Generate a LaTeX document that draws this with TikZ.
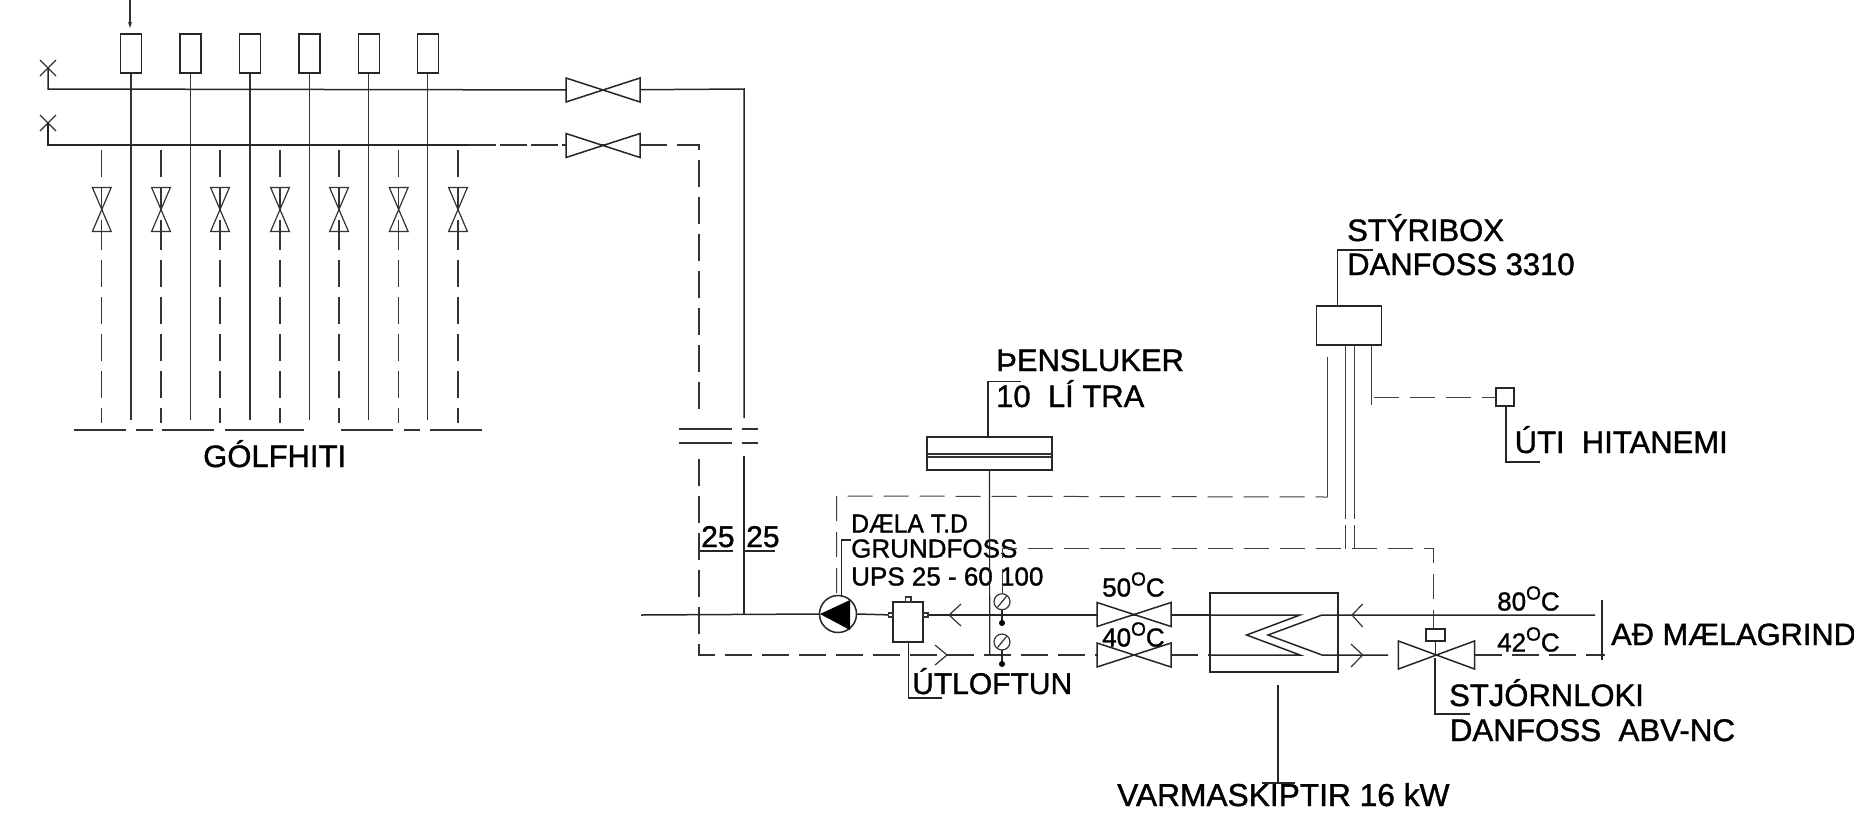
\documentclass[tikz,border=0pt]{standalone}
\usepackage{fontspec}
\usetikzlibrary{arrows.meta}
\setmainfont[FakeBold=1.2]{Liberation Sans}
\tikzset{
  x=1pt,y=-1pt,
  pipe/.style={line width=1.5pt,draw=black!85},
  thin pipe/.style={line width=1.2pt,draw=black!80},
  dash pipe/.style={line width=1.25pt,draw=black!80,dash pattern=on 27pt off 10pt},
  ctrl/.style={line width=1.0pt,draw=black!75,dash pattern=on 25pt off 11pt},
  wire/.style={line width=1.0pt,draw=black!75},
  lead/.style={line width=1.2pt,draw=black!85},
  lab/.style={anchor=west,inner sep=0pt,text=black,text height=22pt,text depth=0pt,font=\fontsize{31}{31}\selectfont},
  labs/.style={anchor=west,inner sep=0pt,text=black,text height=19pt,text depth=0pt,font=\fontsize{26}{26}\selectfont},
  bow h/.pic={\draw[pipe,fill=white] (-37,-12)--(37,12)--(37,-12)--(-37,12)--cycle;},
  bow v/.pic={\draw[thin pipe] (-9.4,-22)--(9.4,22)--(-9.4,22)--(9.4,-22)--cycle;
              \draw[thin pipe] (0,-22)--(0,0) (0,22)--(0,10);},
  cross/.pic={\draw[thin pipe] (-8,-8)--(8,8) (-8,8)--(8,-8);},
  sensor/.pic={\draw[thin pipe,fill=white] (0,0) ellipse (8 and 8);
               \draw[thin pipe] (-4.5,5.5)--(4.5,-5.5);}
}
\newcommand{\degc}[1]{#1\raisebox{0.42em}{\fontsize{19}{19}\selectfont O}C}
\begin{document}
\begin{tikzpicture}
\useasboundingbox[fill=white] (0,0) rectangle (1854,814);
% radiators
\foreach \i/\xx in {1/131,2/190.6,3/250,4/309.4,5/368.8,6/427.7}{
  \node[draw=black!85,line width=1.3pt,minimum width=21pt,minimum height=39pt,inner sep=0pt] (r\i) at (\xx,53.5) {};
  \coordinate (rb\i) at (\xx,420);
  \draw[thin pipe] (r\i.south) -- (rb\i);
}
\coordinate (topin) at (130,0);
\draw[thin pipe,-{Stealth[length=6pt,width=4pt]}] (topin) -- (130,28);
% headers
\coordinate (x1) at (48,68); \coordinate (x2) at (48,123);
\pic at (x1) {cross}; \pic at (x2) {cross};
\coordinate (v1) at (603,90); \coordinate (v2) at (603,145.5);
\coordinate (corner1) at (744,89); \coordinate (junction) at (744,615);
\coordinate (corner2) at (699,145);
\coordinate (ret) at (699,655);
\draw[pipe] (x1) -- (48,89) -- (v1) -- (corner1) -- (744,418);
\draw[pipe] (744,456) -- (junction);
\draw[pipe] (x2) -- (48,145) -- (469,145);
\draw[dash pipe,line width=1.2pt,dash pattern=on 27pt off 4pt] (469,145) -- (603,145);
\draw[dash pipe] (603,145) -- (corner2) -- (699,418);
\draw[dash pipe] (699,459) -- (ret) -- (1097,655);
\pic at (v1) {bow h}; \pic at (v2) {bow h};
% break marks
\draw[thin pipe] (679,429)--(732,429) (742,429)--(758,429) (679,443)--(732,443) (742,443)--(758,443);
% underfloor loops
\foreach \xx in {101.8,161,220,280,339,398.7,458}{
  \pic at (\xx,209.5) {bow v};
  \draw[dash pipe] (\xx,150) -- (\xx,177);
  \draw[dash pipe] (\xx,223) -- (\xx,423);
}
\draw[thin pipe] (74,430)--(126,430) (136,430)--(153,430) (162,430)--(214,430) (225,430)--(304,430)
  (341,430)--(393,430) (404,430)--(420,430) (430,430)--(482,430);
\node[lab] (golf) at (203,456) {GÓLFHITI};
% 25 labels
\node[lab,font=\fontsize{30}{30}\selectfont] (d1) at (701,536) {25};
\node[lab,font=\fontsize{30}{30}\selectfont] (d2) at (746,536) {25};
\draw[lead] (700,551)--(733,551) (744,551)--(775,551);
% main line
\coordinate (inl) at (641,615);
\node[circle,draw=black!85,line width=1.5pt,minimum size=37pt,inner sep=0pt,fill=white] (pump) at (838,614) {};
\node[draw=black!85,line width=1.4pt,minimum width=30pt,minimum height=40pt,inner sep=0pt,fill=white] (sep) at (908,622) {};
\coordinate (hx1) at (1210,615);
\coordinate (hx2) at (1210,655);
\coordinate (v3) at (1134,614.5); \coordinate (v4) at (1134,655);
\draw[pipe] (inl) -- (pump.west);
\draw[pipe] (pump.east) -- (893,615);
\draw[pipe] (923,615) -- (1097,615) -- (1171,615) -- (hx1);
\draw[dash pipe] (v4) -- (hx2);
\pic at (v3) {bow h}; \pic at (v4) {bow h};
\fill[black] (820,614) -- (850,600) -- (850,630) -- cycle;
\draw[thin pipe,fill=white] (905.5,602) rectangle (911,597);
\draw[thin pipe,fill=white] (888.5,613) rectangle (893,617);
\draw[thin pipe,fill=white] (923,613) rectangle (928,617);
\draw[thin pipe] (961,604) -- (949,615) -- (961,626);
\draw[thin pipe] (935,645) -- (947,655) -- (935,665);
% separator leader
\coordinate (ul) at (941.5,698);
\draw[lead] (908.6,642) -- (908.6,698) -- (ul);
\node[lab,font=\fontsize{30}{30}\selectfont] (ut) at (912,683) {ÚTLOFTUN};
% pump leader & label
\draw[lead] (841.4,597) -- (841.4,540) -- (851,540);
\draw[ctrl] (836.7,593) -- (836.7,496) -- (1327.5,497);
\draw[wire] (1327.5,497) -- (1327.5,357);
\node[labs,xscale=.95,anchor=west] (dl) at (851,523) {DÆLA T.D};
\node[labs] (gr) at (851,548) {GRUNDFOSS};
\node[labs] (ups) at (851,576) {UPS 25 - 60 100};
% tank
\node[draw=black!85,line width=1.4pt,minimum width=125pt,minimum height=33pt,inner sep=0pt] (tank) at (989.5,453.5) {};
\draw[thin pipe] (927,454) -- (1052,454) (927,457) -- (1052,457);
\draw[lead] (tank.south) -- (989.7,655);
\draw[lead] (988,437) -- (988,381.7) -- (1021,381.7);
\node[lab] (pens) at (996,360) {ÞENSLUKER};
\node[lab] (lit) at (996,396) {10\ \ LÍ TRA};
% sensors
\coordinate (s1) at (1002,601.7); \coordinate (s2) at (1002,642);
\coordinate (d1p) at (1002,623); \coordinate (d2p) at (1002,664);
\draw[lead] (s1) -- (d1p); \draw[lead] (s2) -- (d2p);
\fill[black] (d1p) circle (3); \fill[black] (d2p) circle (3);
\pic at (s1) {sensor}; \pic at (s2) {sensor};
% controller
\node[draw=black!85,line width=1.3pt,minimum width=65pt,minimum height=39pt,inner sep=0pt] (ctl) at (1349.3,325.5) {};
\node[lab] (st) at (1347,230) {STÝRIBOX};
\node[lab] (dan) at (1347,264) {DANFOSS 3310};
\draw[lead] (1337.8,306) -- (1337.8,250) -- (1373,250);
\draw[wire,dash pattern=on 174pt off 6pt on 24pt] (1345.5,345) -- (1345.5,549);
\draw[wire,dash pattern=on 174pt off 6pt on 24pt] (1354,345) -- (1354,549);
\draw[wire] (1371,345) -- (1371,404.7);
\draw[ctrl] (1002,594) -- (1002,548) -- (1433.6,548) -- (1433.6,632);
% outdoor sensor
\node[draw=black!85,line width=1.3pt,minimum width=18pt,minimum height=18pt,inner sep=0pt] (ots) at (1505,397) {};
\draw[ctrl] (1373.5,397) -- (ots.west);
\draw[lead] (1506,406) -- (1506,462) -- (1540,462);
\node[lab] (uti) at (1514.5,442) {ÚTI\ \ HITANEMI};
% exchanger
\node[draw=black!85,line width=1.4pt,minimum width=128pt,minimum height=79pt,inner sep=0pt] (hx) at (1274,632.5) {};
\draw[pipe] (1171,615) -- (1300,615) -- (1246.6,635) -- (1300,655) -- (1210,655);
\draw[pipe] (1595,615) -- (1322,615) -- (1268,635) -- (1322,655) -- (1388,655);
\draw[thin pipe] (1362.7,604) -- (1352,615) -- (1362.7,627);
\draw[thin pipe] (1351,644) -- (1362.7,655) -- (1351,667);
\draw[lead] (1278,685) -- (1278,783);
\draw[lead] (1262,783) -- (1295,783);
\node[lab,font=\fontsize{31.7}{31.7}\selectfont] (varm) at (1117,795) {VARMASKIPTIR 16 kW};
% control valve
\draw[pipe,fill=white] (1398.4,641) -- (1474.5,669) -- (1474.5,641) -- (1398.4,669) -- cycle;
\node[draw=black!85,line width=1.3pt,minimum width=19pt,minimum height=12pt,inner sep=0pt,fill=white] (act) at (1435.5,635) {};
\draw[lead] (act.south) -- (1435.5,655);
\draw[lead] (1435,658) -- (1435,714) -- (1470,714);
\draw[dash pipe] (1474.5,655) -- (1605,655);
\draw[lead] (1602,600) -- (1602,660);
\node[lab] (sl) at (1449,695) {STJÓRNLOKI};
\node[lab,font=\fontsize{31.3}{31.3}\selectfont] (dv) at (1449.6,730) {DANFOSS\ \ ABV-NC};
\node[lab,font=\fontsize{30.8}{30.8}\selectfont] (mg) at (1611,634) {AÐ MÆLAGRIND};
\node[labs] (t80) at (1497,601) {\degc{80}};
\node[labs] (t42) at (1497,642) {\degc{42}};
\node[labs] (t50) at (1102,587) {\degc{50}};
\node[labs] (t40) at (1102,637) {\degc{40}};
\end{tikzpicture}
\end{document}
